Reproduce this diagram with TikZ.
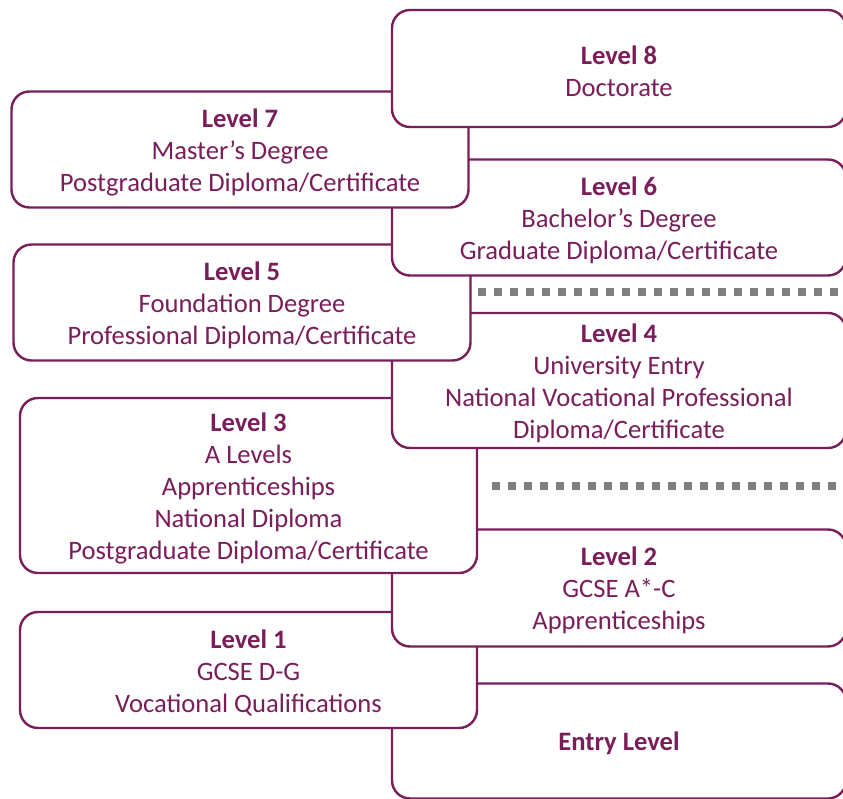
\documentclass[tikz,border=0pt]{standalone}
\usepackage{fontspec}
\setmainfont{Carlito}
\definecolor{maroon}{RGB}{122,30,90}
\definecolor{dotgray}{RGB}{128,128,128}
\newcommand{\lvl}[1]{\rule{0pt}{24pt}\textbf{#1}}
\tikzset{
  levelbox/.style={draw=maroon,line width=2.4pt,fill=white,rounded corners=18pt,
    text=maroon,align=center,inner sep=0pt,
    font=\fontsize{26.6}{32}\selectfont},
  leftbox/.style={levelbox,minimum width=457pt},
  rightbox/.style={levelbox,minimum width=454pt},
  gapline/.style={dotgray,line width=8pt,dash pattern=on 8pt off 8pt}
}
\begin{document}
\begin{tikzpicture}[x=1pt,y=-1pt]
\clip (0,0) rectangle (843,799);
% dotted separators
\coordinate (g1a) at (478,292);
\coordinate (g1b) at (850,292);
\coordinate (g2a) at (492,486);
\coordinate (g2b) at (850,486);
\draw[gapline] (g1a) -- (g1b);
\draw[gapline] (g2a) -- (g2b);
% boxes, lowest level first so higher ones sit on top
\node[rightbox,minimum height=115pt] (entry) at (619,741) {\lvl{Entry Level}};
\node[leftbox,minimum height=116pt] (l1) at (248.5,670) {\lvl{Level 1}\\GCSE D-G\\Vocational Qualifications};
\node[rightbox,minimum height=117pt] (l2) at (619,588) {\lvl{Level 2}\\GCSE A*-C\\Apprenticeships};
\node[leftbox,minimum height=175pt] (l3) at (248.5,485.5) {\lvl{Level 3}\\A Levels\\Apprenticeships\\National Diploma\\Postgraduate Diploma/Certificate};
\node[rightbox,minimum height=135pt] (l4) at (619,380.5) {\lvl{Level 4}\\University Entry\\National Vocational Professional\\Diploma/Certificate};
\node[leftbox,minimum height=116pt] (l5) at (242,302.5) {\lvl{Level 5}\\Foundation Degree\\Professional Diploma/Certificate};
\node[rightbox,minimum height=116pt] (l6) at (619,217.5) {\lvl{Level 6}\\Bachelor’s Degree\\Graduate Diploma/Certificate};
\node[leftbox,minimum height=116pt] (l7) at (240,149.5) {\lvl{Level 7}\\Master’s Degree\\Postgraduate Diploma/Certificate};
\node[rightbox,minimum height=117pt] (l8) at (619,68.5) {\lvl{Level 8}\\Doctorate};
\end{tikzpicture}
\end{document}
